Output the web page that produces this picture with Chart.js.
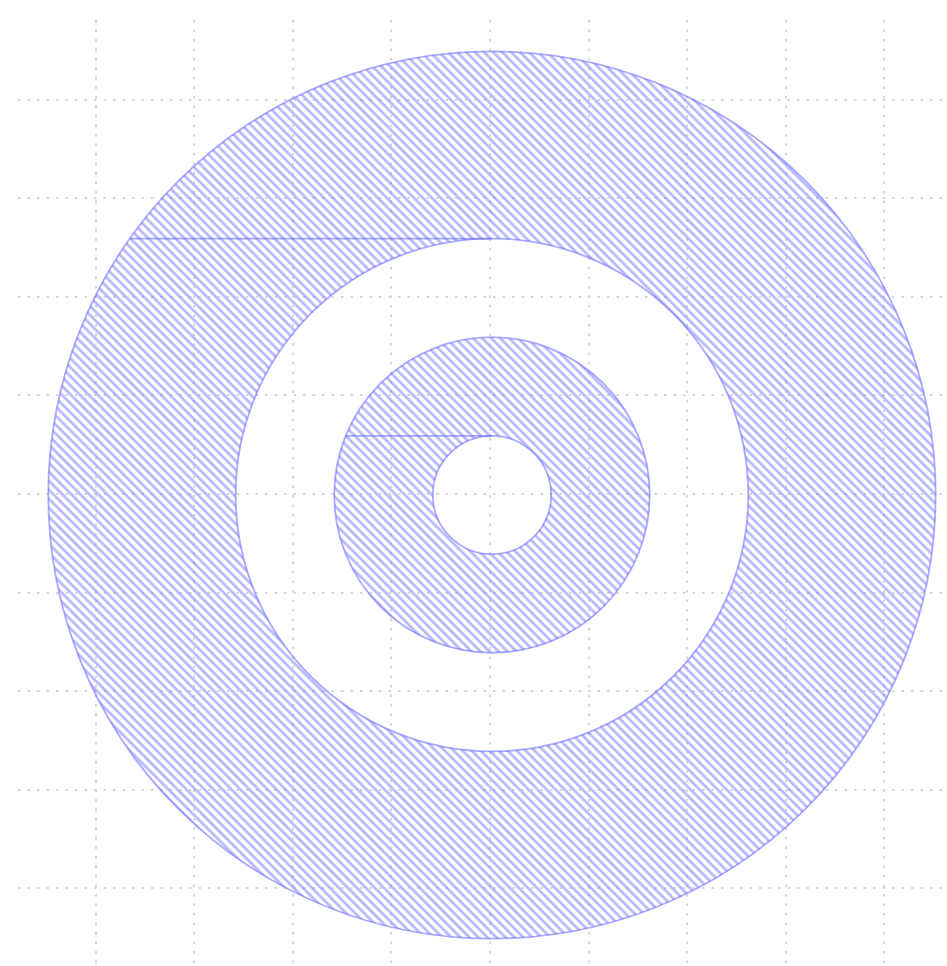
<!DOCTYPE html>
<html>
<head>
<meta charset="utf-8">
<script src="https://cdn.jsdelivr.net/npm/chart.js@4/dist/chart.umd.min.js"></script>
<style>
  body { margin: 0; background: #fff; }
  #wrap { width: 947px; height: 966px; position: relative; }
</style>
</head>
<body>
<div id="wrap"><canvas id="myChart"></canvas></div>
<script>
// two hatched donuts sharing one centre
const ringCenter = [0.02, -0.01];
const outerRadii = [4.5, 1.6];
const innerRadii = [2.6, 0.6];
// the seam each donut path leaves: from the outer circle across to the top of the hole
const seamStartX = [-3.65, -1.46];
const seamY = [2.59, 0.59];

const xRange = [-4.787, 4.635];
const yRange = [-4.787, 4.807];

const edgeColor = 'rgba(100, 100, 255, 0.55)';
const hatchColor = 'rgba(120, 120, 255, 0.5)';

// "\\" hatch tile
function makeHatch(ctx) {
  const s = 9;
  const tile = document.createElement('canvas');
  tile.width = s;
  tile.height = s;
  const t = tile.getContext('2d');
  t.strokeStyle = hatchColor;
  t.lineWidth = 2.8;
  for (let k = -1; k <= 1; k++) {
    t.beginPath();
    t.moveTo(k * s - 1, -1);
    t.lineTo(k * s + s + 1, s + 1);
    t.stroke();
  }
  return ctx.createPattern(tile, 'repeat');
}

const donutPlugin = {
  id: 'donuts',
  beforeDatasetsDraw(chart) {
    const ctx = chart.ctx;
    const xs = chart.scales.x;
    const ys = chart.scales.y;
    const cx = xs.getPixelForValue(ringCenter[0]);
    const cy = ys.getPixelForValue(ringCenter[1]);
    const pattern = makeHatch(ctx);
    ctx.save();
    for (let i = 0; i < outerRadii.length; i++) {
      const ro = xs.getPixelForValue(ringCenter[0] + outerRadii[i]) - cx;
      const ri = xs.getPixelForValue(ringCenter[0] + innerRadii[i]) - cx;
      ctx.beginPath();
      ctx.arc(cx, cy, ro, 0, Math.PI * 2);
      ctx.moveTo(cx + ri, cy);
      ctx.arc(cx, cy, ri, 0, Math.PI * 2);
      ctx.fillStyle = pattern;
      ctx.fill('evenodd');
      ctx.strokeStyle = edgeColor;
      ctx.lineWidth = 1.8;
      ctx.stroke();
    }
    ctx.restore();
  }
};

const seams = seamY.map((y, i) => ({
  data: [{ x: seamStartX[i], y: y }, { x: ringCenter[0], y: y }],
  showLine: true,
  borderColor: edgeColor,
  borderWidth: 1.8,
  pointRadius: 0,
  fill: false
}));

const gridOpts = {
  ticks: { display: false, stepSize: 1, includeBounds: false },
  grid: { color: '#d6d6d6', lineWidth: 2, drawTicks: false },
  border: { display: false, dash: [2.5, 7] }
};

const ctx = document.getElementById('myChart');
const myChart = new Chart(ctx, {
  type: 'scatter',
  data: { datasets: seams },
  plugins: [donutPlugin],
  options: {
    responsive: true,
    maintainAspectRatio: false,
    animation: false,
    layout: { padding: { left: 18, top: 20, right: 0, bottom: 0 } },
    plugins: {
      legend: { display: false },
      tooltip: { enabled: false }
    },
    scales: {
      x: {
        type: 'linear',
        min: xRange[0],
        max: xRange[1],
        afterFit: (s) => { s.height = 0; },
        ...gridOpts
      },
      y: {
        type: 'linear',
        min: yRange[0],
        max: yRange[1],
        afterFit: (s) => { s.width = 0; },
        ...gridOpts
      }
    }
  }
});
</script>
</body>
</html>
